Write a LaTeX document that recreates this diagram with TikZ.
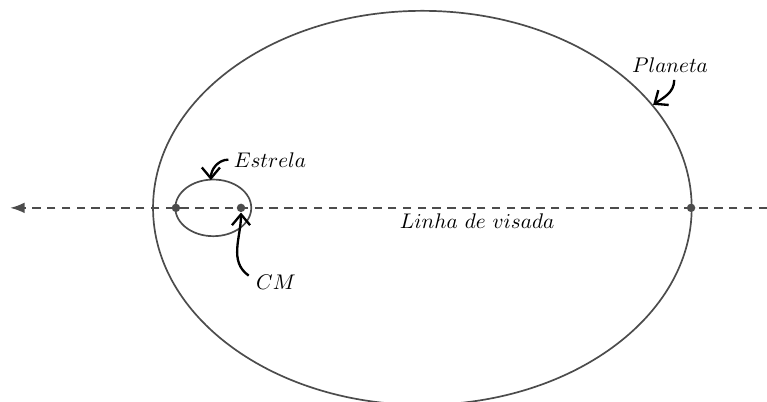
\documentclass[tikz,border=0pt]{standalone}
\usepackage{amsmath}
\usetikzlibrary{arrows.meta,positioning}

\begin{document}
\begin{tikzpicture}[>=Latex,
  ponto/.style={circle,fill=black!70,inner sep=0pt,minimum size=1.4mm},
  seta/.style={-{Straight Barb[length=1.8mm,width=3mm]},line width=1.1pt,black}]
\useasboundingbox (0,0) rectangle (12.73,6.67);
\coordinate (lv) at (0.17,3.22);
\coordinate (rv) at (12.73,3.22);
\draw[black!70,line width=0.8pt,dashed,dash pattern=on 4pt off 3pt,-{Latex[length=2.4mm,width=1.8mm]}] (rv)--(lv);
\draw[black!70,line width=0.8pt] (7.01,3.22) ellipse [x radius=4.47,y radius=3.27];
\draw[black!70,line width=0.8pt] (3.54,3.22) ellipse [x radius=0.63,y radius=0.47];
\node[ponto] (p1) at (2.92,3.22) {};
\node[ponto] (cm) at (4.00,3.22) {};
\node[ponto] (p2) at (11.47,3.22) {};
\coordinate (estrelatop) at (3.50,3.68);
\coordinate (planetaorb) at (10.84,4.93);
\node (linha) at (7.92,3.00) {$Linha\ de\ visada$};
\node (estrela) at (4.48,4.02) {$Estrela$};
\node (cmlbl) at (4.58,1.99) {$CM$};
\node (planeta) at (11.12,5.59) {$Planeta$};
\draw[seta] ([xshift=1pt]estrela.west) to[out=180,in=90] (estrelatop);
\draw[seta] ([yshift=3pt]cmlbl.west) to[out=145,in=-90] (cm.south);
\draw[seta] ([xshift=2pt]planeta.south) to[out=-90,in=35] (planetaorb);
\end{tikzpicture}
\end{document}
